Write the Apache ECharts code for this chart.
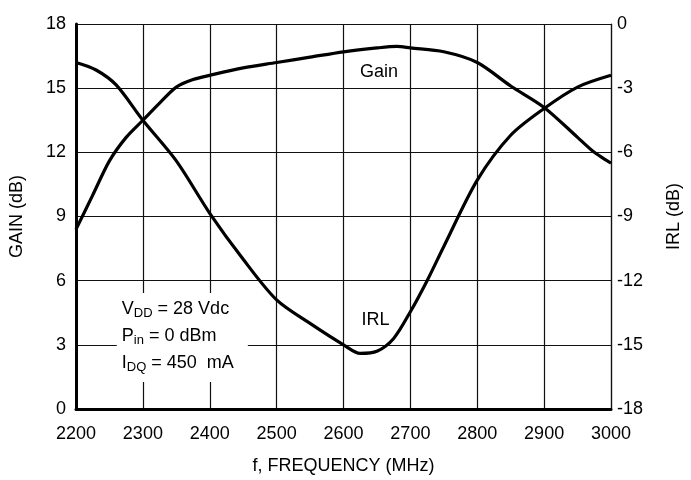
<!DOCTYPE html>
<html>
<head>
<meta charset="utf-8">
<script src="https://cdn.jsdelivr.net/npm/echarts@6/dist/echarts.min.js"></script>
<style>
    html, body { margin: 0; padding: 0; background: #fff; }
    #main { width: 691px; height: 480px; }
</style>
</head>
<body>
<div id="main"></div>
<script>
// 频率 (MHz)
let gainFreq = [2200, 2225, 2250, 2275, 2300, 2325, 2350, 2375, 2400, 2450, 2500, 2550, 2600, 2650, 2680, 2700, 2750, 2800, 2850, 2900, 2950, 2975, 3000];
// 增益 (dB)
let gainVal = [8.4, 10.0, 11.6, 12.7, 13.5, 14.3, 15.05, 15.4, 15.6, 15.95, 16.2, 16.45, 16.7, 16.88, 16.95, 16.88, 16.7, 16.2, 15.1, 14.1, 12.7, 12.0, 11.5];
// IRL 频率 (MHz)
let irlFreq = [2200, 2230, 2260, 2300, 2350, 2400, 2450, 2500, 2550, 2600, 2625, 2650, 2675, 2700, 2725, 2750, 2800, 2850, 2900, 2950, 3000];
// IRL (dB)
let irlVal = [-1.8, -2.15, -2.85, -4.5, -6.4, -8.85, -11.0, -12.9, -14.0, -15.0, -15.4, -15.3, -14.7, -13.45, -12.0, -10.4, -7.3, -5.2, -3.95, -2.95, -2.4];

(function () {
    let font = '"Liberation Sans Narrow", "Arial Narrow", "Liberation Sans", sans-serif';
    let myChart = echarts.init(document.getElementById('main'));

    let gainData = gainFreq.map(function (f, i) { return [f, gainVal[i]]; });
    let irlData = irlFreq.map(function (f, i) { return [f, irlVal[i]]; });

    myChart.setOption({
        animation: false,
        backgroundColor: '#fff',
        textStyle: { fontFamily: font },
        grid: { left: 73, right: 70, top: 24, bottom: 71 },
        xAxis: {
            type: 'value',
            min: 2200, max: 3000, interval: 100,
            name: 'f, FREQUENCY (MHz)',
            nameLocation: 'middle',
            nameGap: 48,
            nameTextStyle: { color: '#000', fontSize: 18, fontFamily: font },
            axisLine: { lineStyle: { color: '#000', width: 3 } },
            axisTick: { show: false },
            axisLabel: {
                color: '#000', fontSize: 18, margin: 16, fontFamily: font,
                formatter: function (v) { return String(v); } // 不要千分位逗号
            },
            splitLine: { lineStyle: { color: '#111', width: 1.2 } }
        },
        yAxis: [{
            type: 'value',
            min: 0, max: 18, interval: 3,
            name: 'GAIN (dB)',
            nameLocation: 'middle',
            nameGap: 50,
            nameTextStyle: { color: '#000', fontSize: 18, fontFamily: font },
            axisLine: { show: true, lineStyle: { color: '#000', width: 3 } },
            axisTick: { show: false },
            axisLabel: { color: '#000', fontSize: 18, margin: 10, fontFamily: font },
            splitLine: { lineStyle: { color: '#111', width: 1.2 } }
        }, {
            type: 'value',
            min: -18, max: 0, interval: 3,
            name: 'IRL (dB)',
            nameLocation: 'middle',
            nameGap: 54,
            nameRotate: 90,
            nameTextStyle: { color: '#000', fontSize: 18, fontFamily: font },
            axisLine: { show: true, lineStyle: { color: '#111', width: 1.2 } },
            axisTick: { show: false },
            axisLabel: { color: '#000', fontSize: 18, margin: 6, fontFamily: font },
            splitLine: { show: false }
        }],
        series: [{
            name: 'Gain',
            type: 'line',
            yAxisIndex: 0,
            smooth: 0.3,
            showSymbol: false,
            lineStyle: { color: '#000', width: 3.2 },
            data: gainData
        }, {
            name: 'IRL',
            type: 'line',
            yAxisIndex: 1,
            smooth: 0.3,
            showSymbol: false,
            lineStyle: { color: '#000', width: 3.2 },
            data: irlData
        }]
    });

    // 文字标注，位置用数据坐标换算
    let gainPos = myChart.convertToPixel({ xAxisIndex: 0, yAxisIndex: 0 }, [2653, 15.75]);
    let irlPos = myChart.convertToPixel({ xAxisIndex: 0, yAxisIndex: 0 }, [2648, 4.16]);
    let boxPos = myChart.convertToPixel({ xAxisIndex: 0, yAxisIndex: 0 }, [2261, 5.42]);

    let lbl = { fontSize: 18, fontFamily: font, lineHeight: 27, verticalAlign: 'middle' };
    let sub = { fontSize: 13, fontFamily: font, lineHeight: 27, verticalAlign: 'bottom', padding: [0, 0, 2, 0] };

    myChart.setOption({
        graphic: [{
            type: 'text', x: gainPos[0], y: gainPos[1], z: 100,
            style: { text: 'Gain', fill: '#000', font: '18px ' + font, align: 'center', verticalAlign: 'middle' }
        }, {
            type: 'text', x: irlPos[0], y: irlPos[1], z: 100,
            style: { text: 'IRL', fill: '#000', font: '18px ' + font, align: 'center', verticalAlign: 'middle' }
        }, {
            type: 'text', x: boxPos[0], y: boxPos[1], z: 100,
            style: {
                text: '{m|V}{s|DD}{m| = 28 Vdc}\n{m|P}{s|in}{m| = 0 dBm}\n{m|I}{s|DQ}{m| = 450  mA}',
                fill: '#000',
                backgroundColor: '#fff',
                padding: [2, 14, 6, 5],
                rich: { m: lbl, s: sub }
            }
        }]
    });
})();
</script>
</body>
</html>
